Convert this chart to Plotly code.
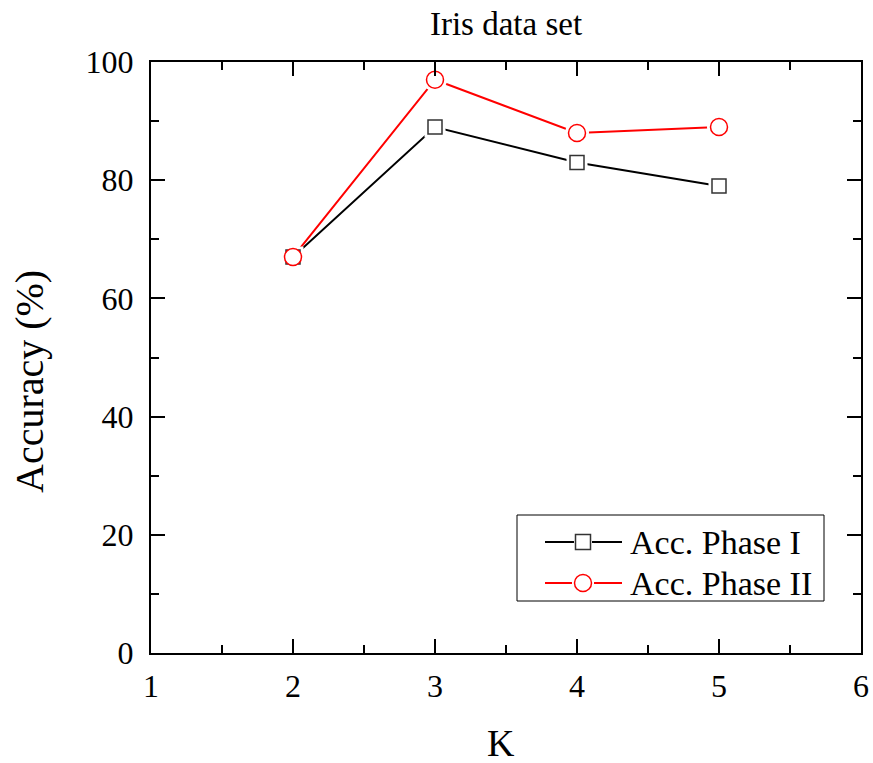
import plotly.graph_objects as go

k_values = [2, 3, 4, 5]
acc_phase1 = [67, 89, 83, 79]
acc_phase2 = [67, 97, 88, 89]
names = ["Acc. Phase I", "Acc. Phase II"]
title_text = "Iris data set"
x_title = "K"
y_title = "Accuracy (%)"

FONT = "Liberation Serif, Times New Roman, serif"
COLORS = ["black", "red"]
EDGE = ["#333333", "red"]

fig = go.Figure()
# lines only
fig.add_trace(go.Scatter(x=k_values, y=acc_phase1, mode="lines",
                         line=dict(color=COLORS[0], width=2), showlegend=False, hoverinfo="skip"))
fig.add_trace(go.Scatter(x=k_values, y=acc_phase2, mode="lines",
                         line=dict(color=COLORS[1], width=2), showlegend=False, hoverinfo="skip"))
# white halo to create gap between line and marker
fig.add_trace(go.Scatter(x=k_values, y=acc_phase1, mode="markers",
                         marker=dict(symbol="square", size=21, color="white", line=dict(width=0)),
                         showlegend=False, hoverinfo="skip"))
fig.add_trace(go.Scatter(x=k_values, y=acc_phase2, mode="markers",
                         marker=dict(symbol="circle", size=24, color="white", line=dict(width=0)),
                         showlegend=False, hoverinfo="skip"))
# real markers
fig.add_trace(go.Scatter(x=k_values, y=acc_phase1, mode="markers", name=names[0],
                         marker=dict(symbol="square", size=14, color="white",
                                     line=dict(color=EDGE[0], width=1.5)),
                         showlegend=False))
fig.add_trace(go.Scatter(x=k_values, y=acc_phase2, mode="markers", name=names[1],
                         marker=dict(symbol="circle", size=17, color="white",
                                     line=dict(color=EDGE[1], width=1.5)),
                         showlegend=False))

axis_common = dict(
    showline=True, linecolor="black", linewidth=2, mirror="ticks",
    ticks="inside", ticklen=14, tickwidth=2, tickcolor="black",
    showgrid=False, zeroline=False, automargin=False,
    tickfont=dict(family=FONT, size=32, color="black"),
)

fig.update_xaxes(range=[1, 6], dtick=1, tick0=1,
                 minor=dict(ticks="inside", ticklen=8, tickwidth=2, dtick=0.5, tick0=1, tickcolor="black"),
                 ticklabelstandoff=4,
                 **axis_common)
fig.update_yaxes(range=[0, 100], dtick=20, tick0=0,
                 minor=dict(ticks="inside", ticklen=8, tickwidth=2, dtick=10, tick0=0, tickcolor="black"),
                 ticklabelstandoff=9,
                 **axis_common)

L, R, T, B = 151, 12, 62, 110
W, H = 873, 763
pw, ph = W - L - R, H - T - B


def px(xpix):
    return (xpix - L) / pw


def py(ypix):
    return (H - B - ypix) / ph


# custom legend (Origin style: long line, gap around symbol)
shapes = [dict(type="rect", xref="paper", yref="paper", x0=px(517), x1=px(824), y0=py(601), y1=py(515),
               line=dict(color="black", width=1), fillcolor="white", layer="above")]
annotations = []
rows = [542, 583]
for i, (name, yrow) in enumerate(zip(names, rows)):
    gap = 9 if i == 0 else 11
    cx = 583
    shapes.append(dict(type="line", xref="paper", yref="paper", x0=px(545), x1=px(cx - gap),
                       y0=py(yrow), y1=py(yrow), line=dict(color=COLORS[i], width=2), layer="above"))
    shapes.append(dict(type="line", xref="paper", yref="paper", x0=px(cx + gap), x1=px(622),
                       y0=py(yrow), y1=py(yrow), line=dict(color=COLORS[i], width=2), layer="above"))
    half = 7.5 if i == 0 else 8.5
    shapes.append(dict(type="rect" if i == 0 else "circle", xref="paper", yref="paper",
                       xsizemode="pixel", ysizemode="pixel", xanchor=px(cx), yanchor=py(yrow),
                       x0=-half, x1=half, y0=-half, y1=half,
                       line=dict(color=EDGE[i], width=1.5), fillcolor="white", layer="above"))
    annotations.append(dict(text=name, xref="paper", yref="paper", x=px(628), y=py(yrow),
                            xanchor="left", yanchor="middle", showarrow=False,
                            font=dict(family=FONT, size=34, color="black")))

annotations += [
    dict(text=x_title, xref="paper", yref="paper", x=px(501), y=py(743),
         xanchor="center", yanchor="middle", showarrow=False,
         font=dict(family=FONT, size=38, color="black")),
    dict(text=y_title, xref="paper", yref="paper", x=px(29), y=py(382),
         xanchor="center", yanchor="middle", showarrow=False, textangle=-90,
         font=dict(family=FONT, size=40, color="black")),
]

fig.update_layout(
    width=W, height=H,
    margin=dict(l=L, r=R, t=T, b=B, autoexpand=False),
    paper_bgcolor="white", plot_bgcolor="white",
    showlegend=False,
    title=dict(text=title_text, x=px(506), xref="paper", xanchor="center",
               y=1 - 23 / H, yref="container", yanchor="middle",
               font=dict(family=FONT, size=33, color="black")),
    font=dict(family=FONT, color="black"),
    shapes=shapes,
    annotations=annotations,
)

fig.write_html("out.html")
